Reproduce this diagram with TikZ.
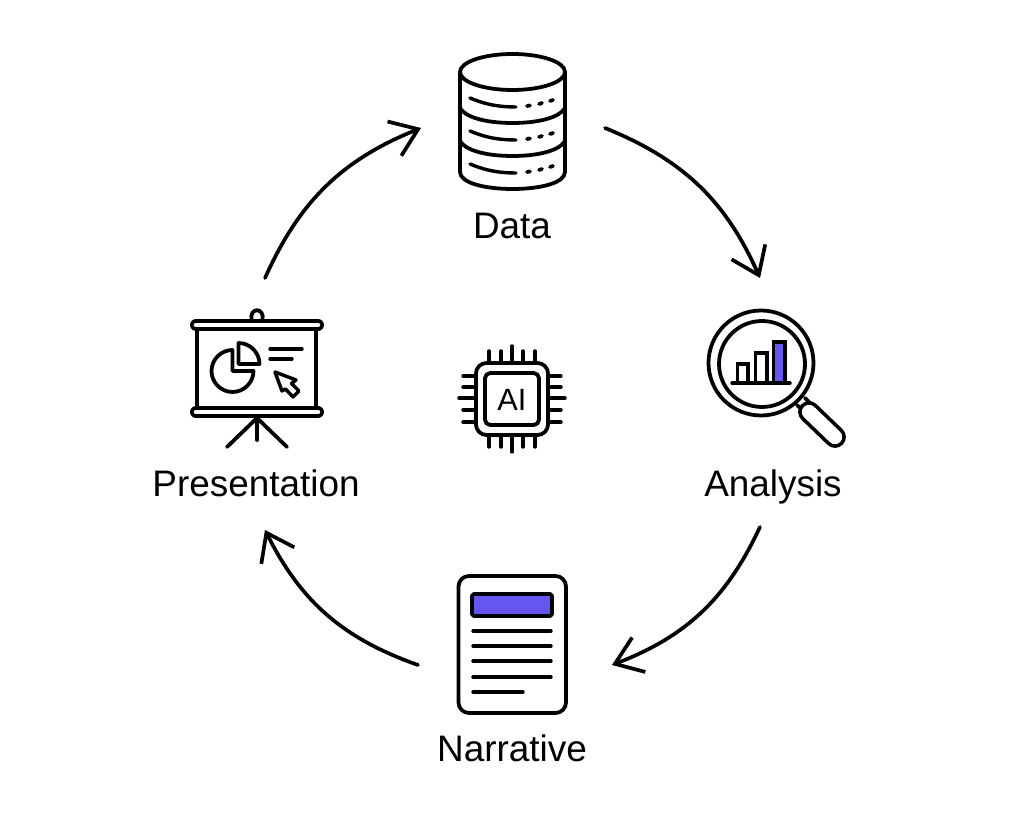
\documentclass[tikz,border=0pt]{standalone}
\usepackage{fontspec}
\setmainfont{Liberation Sans}
\usetikzlibrary{arrows.meta}

\definecolor{accent}{HTML}{6655EE}
\tikzset{
  icon/.style={line width=2.15pt, line cap=round, line join=round},
  thinicon/.style={line width=1.95pt, line cap=round, line join=round},
  cycle/.style={line width=2.1pt, line cap=round, -{Straight Barb[length=14.5pt,width=21pt,line width=2.1pt]}},
  label/.style={font=\fontsize{21}{22}\selectfont, anchor=base},
  slot/.style={inner sep=0pt, outer sep=0pt},
}

\begin{document}
\begin{tikzpicture}[x=0.02cm, y=-0.02cm]
  \useasboundingbox (0,0) rectangle (1024,830);

  % Nodes
  \node[slot, minimum width=3.68cm, minimum height=0.2cm] (data) at (513,128) {};
  \node[slot, minimum width=0.2cm, minimum height=4.98cm] (analysis) at (760,402.5) {};
  \node[slot, minimum width=3.88cm, minimum height=0.2cm] (narrative) at (515,665) {};
  \node[slot, minimum width=0.2cm, minimum height=5.04cm] (presentation) at (265,404) {};
  \node[label] (datatext) at (512,239) {Data};
  \node[label] (analysistext) at (773,497) {Analysis};
  \node[label] (narrativetext) at (512,761) {Narrative};
  \node[label] (presentationtext) at (256,497) {Presentation};

  % Arrows
  \draw[cycle] (data.east) to[bend left=22] (analysis.north);
  \draw[cycle] (analysis.south) to[bend left=22] (narrative.east);
  \draw[cycle] (narrative.west) to[bend left=22] (presentation.south);
  \draw[cycle] (presentation.north) to[bend left=22] (data.west);

  % Database
  \begin{scope}[icon]
    \draw (512.5,72) ellipse (52.5 and 18);
    \draw (460,72) -- (460,172) .. controls (460,183) and (485,189) .. (512.5,189) .. controls (540,189) and (565,183) .. (565,172) -- (565,72);
    \foreach \y in {108,141} {
      \draw (460,\y) .. controls (465,\y+9) and (485,\y+15) .. (512.5,\y+15) .. controls (540,\y+15) and (560,\y+9) .. (565,\y);
    }
    \foreach \y in {0,33,66} {
      \draw[thinicon] (470,98+\y) .. controls (482,103+\y) and (495,107+\y) .. (516,107+\y);
      \draw (527,106+\y) -- (530,105.5+\y);
      \draw (539,104+\y) -- (542,103+\y);
      \draw (550,101+\y) -- (553,100+\y);
    }
  \end{scope}

  % Magnifier
  \begin{scope}[icon]
    \draw (761,363) circle (52.5);
    \draw (762,364) circle (43);
    \draw (797,405) -- (806,414);
    \draw (805,398) -- (814,407);
    \draw[line width=12.4pt] (809,412) -- (835,437);
    \draw[white, line width=8.2pt] (809,412) -- (835,437);
    \draw[thinicon, line join=miter, fill=white] (737.5,383) -- (737.5,364) -- (748,364) -- (748,383);
    \draw[thinicon, line join=miter, fill=white] (755.5,383) -- (755.5,353) -- (767,353) -- (767,383);
    \draw[thinicon, line join=miter, fill=accent] (773.5,383) -- (773.5,342) -- (785,342) -- (785,383) -- cycle;
    \draw[thinicon] (732,383) -- (790,383);
  \end{scope}

  % Document
  \begin{scope}[icon]
    \draw[rounded corners=6] (458.5,576) rectangle (566,713);
    \draw[fill=accent, rounded corners=1] (472,594) rectangle (552,616);
    \foreach \y in {631,646,661,677} {
      \draw[thinicon] (473,\y) -- (551,\y);
    }
    \draw[thinicon] (473,692) -- (523,692);
  \end{scope}

  % Projection screen
  \begin{scope}[icon]
    \draw (251.5,320) .. controls (249,307) and (265,307) .. (262.5,320);
    \draw (197,325) -- (197,412);
    \draw (316,325) -- (316,412);
    \foreach \y in {325,412} {
      \draw[line width=6.8pt] (196,\y) -- (318,\y);
      \draw[white, line width=2.6pt] (196,\y) -- (318,\y);
    }
    \draw (257,418) -- (257,440);
    \draw (257,418) -- (227,447);
    \draw (257,418) -- (287,447);
    % pie
    \draw (232.5,350) .. controls (221,350) and (211.5,359.5) .. (211.5,371) .. controls (211.5,382.5) and (221,392) .. (232.5,392) .. controls (244,392) and (253.5,382.5) .. (253.5,371) -- (232.5,371) -- cycle;
    \draw (238.5,364) -- (238.5,343) .. controls (250,343) and (259.5,352.5) .. (259.5,364) -- cycle;
    \draw[thinicon] (270,349) -- (302,349);
    \draw[thinicon] (270,359) -- (292,359);
    \draw[thinicon] (275,372) -- (296,380) -- (291.5,383.5) -- (299,391) -- (293,397) -- (285.5,389) -- (282,391) -- cycle;
  \end{scope}

  % Chip
  \begin{scope}[icon]
    \draw[rounded corners=6] (476,363) rectangle (548,435);
    \draw[rounded corners=3] (485,373) rectangle (539,425);
    \foreach \x in {489,501,523,535} {
      \draw[thinicon] (\x,363) -- (\x,351);
      \draw[thinicon] (\x,435) -- (\x,447);
    }
    \draw[thinicon] (512,363) -- (512,346);
    \draw[thinicon] (512,435) -- (512,452);
    \foreach \y in {376,387,410,422} {
      \draw[thinicon] (476,\y) -- (463,\y);
      \draw[thinicon] (548,\y) -- (561,\y);
    }
    \draw[thinicon] (476,398) -- (459,398);
    \draw[thinicon] (548,398) -- (565,398);
  \end{scope}
  \node[font=\fontsize{17.5}{18}\selectfont] (chiptext) at (512,400) {AI};
\end{tikzpicture}
\end{document}
